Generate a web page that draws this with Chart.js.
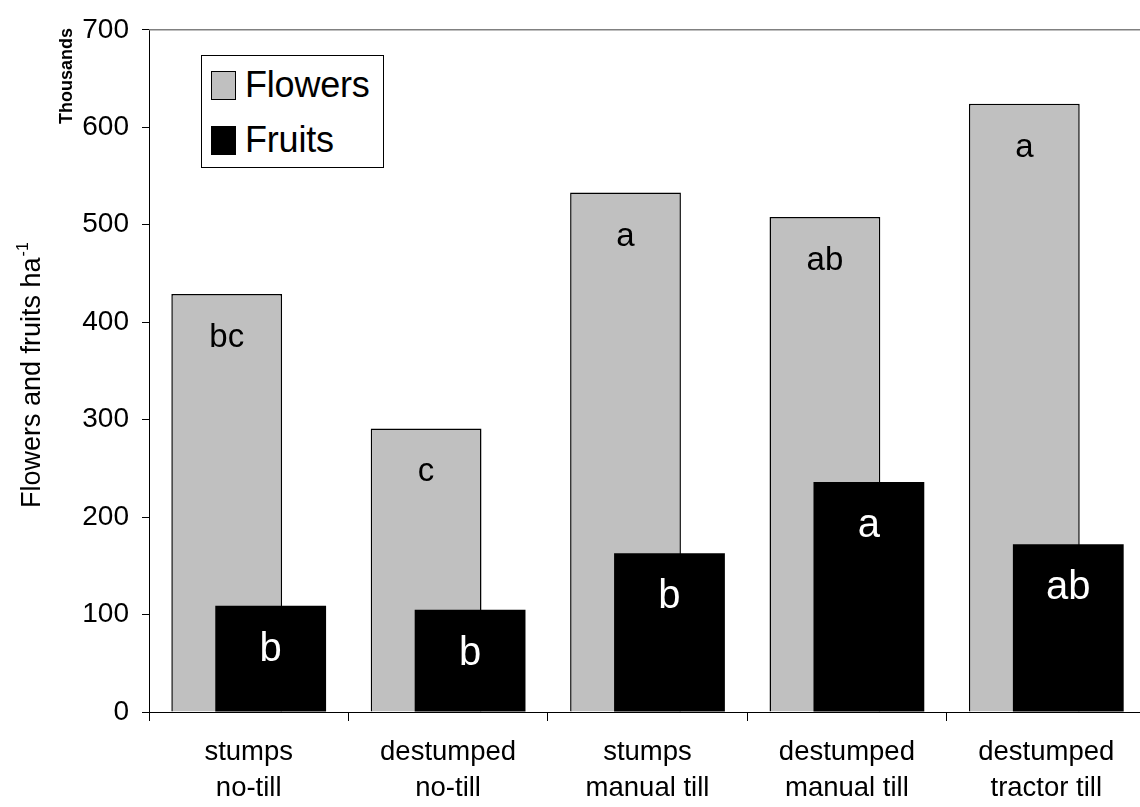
<!DOCTYPE html>
<html>
<head>
<meta charset="utf-8">
<script src="https://cdn.jsdelivr.net/npm/chart.js@4.4.0/dist/chart.umd.min.js"></script>
<style>
  html, body { margin: 0; padding: 0; background: #fff; overflow: hidden; }
  #wrap { position: relative; width: 1150px; height: 807px; }
  #legendBox {
    position: absolute; left: 201px; top: 55px; width: 183px; height: 113px;
    box-sizing: border-box; border: 1.5px solid #000; background: #fff;
    font-family: "Liberation Sans", Arial, sans-serif; color: #000;
  }
  .lg-row { position: absolute; left: 9px; height: 36px; display: flex; align-items: center; }
  .lg-box { width: 25px; height: 29px; box-sizing: border-box; border: 1.5px solid #000; margin-right: 9px; }
  .lg-text { font-size: 36px; line-height: 36px; letter-spacing: -0.2px; }
</style>
</head>
<body>
<div id="wrap">
  <canvas id="chart" width="1150" height="807"></canvas>
  <div id="legendBox"></div>
</div>
<script>
// categories (two-line tick labels)
const categories = [
  ['stumps', 'no-till'],
  ['destumped', 'no-till'],
  ['stumps', 'manual till'],
  ['destumped', 'manual till'],
  ['destumped', 'tractor till']
];

// values, in thousands per ha
const flowers = [429, 291, 533, 508, 624];
const fruits = [109, 105, 163, 236, 172];

// significance letters written inside the bars
const flowerLetters = ['bc', 'c', 'a', 'ab', 'a'];
const fruitLetters = ['b', 'b', 'b', 'a', 'ab'];

const seriesNames = ['Flowers', 'Fruits'];
const seriesColors = ['#c0c0c0', '#000000'];

const yMin = 0;
const yMax = 700;
const yStep = 100;

const FONT = '"Liberation Sans", Arial, sans-serif';
Chart.defaults.font.family = FONT;
Chart.defaults.color = '#000';

// bars overlap: draw flowers first so fruits sit on top, then the letters
const overlapDraw = {
  id: 'overlapDraw',
  beforeDatasetsDraw(chart) {
    const ctx = chart.ctx;
    const metas = chart.getSortedVisibleDatasetMetas();
    metas.forEach(m => m.controller.draw());

    const letterSets = [flowerLetters, fruitLetters];
    const letterStyle = [
      { color: '#000', size: 33, drop: 53 },
      { color: '#fff', size: 40, drop: 55 }
    ];
    ctx.save();
    ctx.textAlign = 'center';
    ctx.textBaseline = 'alphabetic';
    metas.forEach(m => {
      const st = letterStyle[m.index];
      ctx.fillStyle = st.color;
      ctx.font = st.size + 'px ' + FONT;
      m.data.forEach((bar, i) => {
        ctx.fillText(letterSets[m.index][i], bar.x, bar.y + st.drop);
      });
    });
    ctx.restore();
    return false;
  }
};

// axis titles (with superscript) and the thin plot-area frame on top
const decorations = {
  id: 'decorations',
  afterDraw(chart) {
    const ctx = chart.ctx;
    const area = chart.chartArea;
    ctx.save();
    ctx.strokeStyle = '#808080';
    ctx.lineWidth = 1.5;
    ctx.beginPath();
    ctx.moveTo(area.left, area.top);
    ctx.lineTo(area.right, area.top);
    ctx.stroke();

    ctx.fillStyle = '#000';
    ctx.textBaseline = 'alphabetic';
    ctx.textAlign = 'left';

    ctx.save();
    ctx.translate(40, 508);
    ctx.rotate(-Math.PI / 2);
    ctx.font = '27px ' + FONT;
    const main = 'Flowers and fruits ha';
    ctx.fillText(main, 0, 0);
    const w = ctx.measureText(main).width;
    ctx.font = '16px ' + FONT;
    ctx.fillText('-1', w + 1, -12);
    ctx.restore();

    ctx.save();
    ctx.translate(72, 124);
    ctx.rotate(-Math.PI / 2);
    ctx.font = 'bold 18px ' + FONT;
    ctx.fillText('Thousands', 0, 0);
    ctx.restore();

    ctx.restore();
  }
};

new Chart(document.getElementById('chart'), {
  type: 'bar',
  data: {
    labels: categories,
    datasets: [
      {
        label: seriesNames[0],
        data: flowers,
        backgroundColor: seriesColors[0],
        borderColor: '#000',
        borderWidth: 1.5,
        categoryPercentage: 0.441,
        barPercentage: 2.52
      },
      {
        label: seriesNames[1],
        data: fruits,
        backgroundColor: seriesColors[1],
        borderWidth: 0,
        categoryPercentage: 0.441,
        barPercentage: 2.52
      }
    ]
  },
  options: {
    responsive: false,
    animation: false,
    layout: { padding: { top: 20, right: 4, left: 0, bottom: 0 } },
    plugins: {
      legend: { display: false },
      tooltip: { enabled: false }
    },
    scales: {
      x: {
        offset: true,
        grid: { offset: true, drawOnChartArea: false, tickLength: 9, color: '#000', lineWidth: 1 },
        border: { color: '#000', width: 1 },
        ticks: {
          color: '#000', font: { size: 27.5, lineHeight: 1.31 },
          padding: 13, maxRotation: 0, autoSkip: false
        },
        afterFit(s) { s.height = 95; }
      },
      y: {
        min: yMin,
        max: yMax,
        ticks: { stepSize: yStep, color: '#000', font: { size: 28 }, padding: 13 },
        grid: { drawOnChartArea: false, tickLength: 7, color: '#000', lineWidth: 1 },
        border: { color: '#000', width: 1 },
        afterFit(s) { s.width = 149; }
      }
    }
  },
  plugins: [overlapDraw, decorations]
});

// legend box built from the series names and colours
const legendBox = document.getElementById('legendBox');
const rowTops = [11, 66];
seriesNames.forEach((name, i) => {
  const row = document.createElement('div');
  row.className = 'lg-row';
  row.style.top = rowTops[i] + 'px';
  const sw = document.createElement('div');
  sw.className = 'lg-box';
  sw.style.background = seriesColors[i];
  const tx = document.createElement('span');
  tx.className = 'lg-text';
  tx.textContent = name;
  row.appendChild(sw);
  row.appendChild(tx);
  legendBox.appendChild(row);
});
</script>
</body>
</html>
